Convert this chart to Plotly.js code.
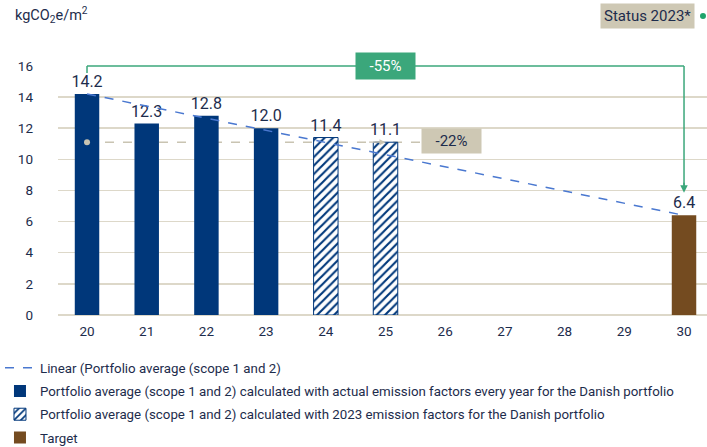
<!DOCTYPE html>
<html><head><meta charset="utf-8">
<script src="https://cdn.plot.ly/plotly-3.0.1.min.js"></script>
<style>body{margin:0;background:#fff}</style></head>
<body><div id="chart" style="width:707px;height:447px"></div>
<script>
const categories = ['20','21','22','23','24','25','26','27','28','29','30'];
const actualYears = ['20','21','22','23'];
const actualValues = [14.2, 12.3, 12.8, 12.0];
const factor2023Years = ['24','25'];
const factor2023Values = [11.4, 11.1];
const targetYears = ['30'];
const targetValues = [6.4];
const linearYears = ['20','30'];
const linearValues = [14.2, 6.4];
const yTicks = [0,2,4,6,8,10,12,14,16];
const totalReductionText = '-55%';
const statusReductionText = '-22%';
const statusLabel = 'Status 2023*';
const unitLabel = 'kgCO<sub>2</sub>e/m<sup>2</sup>';
const legendNames = [
  'Linear (Portfolio average (scope 1 and 2)',
  'Portfolio average (scope 1 and 2) calculated with actual emission factors every year for the Danish portfolio',
  'Portfolio average (scope 1 and 2) calculated with 2023 emission factors for the Danish portfolio',
  'Target'
];

const NAVY = '#00377a', TEXT = '#1d2c4c', BROWN = '#744b20', GREEN = '#3ba77b', BEIGE = '#cec8b4', GRID = '#ddd8c9';
const FONT = 'Roboto, sans-serif';
const BW = 0.41;

const labelFont = {color:TEXT, size:16, family:FONT};
const traces = [
  {type:'scatter', mode:'lines', x: linearYears, y: linearValues, name: legendNames[0],
   line:{color:'#4a78d0', width:1.5, dash:'dash'}, legendgroup:'a', hoverinfo:'skip'},
  {type:'bar', x: actualYears, y: actualValues, name: legendNames[1], width: BW,
   marker:{color: NAVY}, text: actualValues.map(v=>v.toFixed(1)), textposition:'outside', constraintext:'none',
   textfont:labelFont, cliponaxis:false, legendgroup:'b'},
  {type:'bar', x: factor2023Years, y: factor2023Values, name: legendNames[2], width: BW,
   marker:{color:'#fff', line:{color:NAVY, width:1}, pattern:{shape:'/', fgcolor:NAVY, bgcolor:'#fff', size:6, solidity:0.35}},
   text: factor2023Values.map(v=>v.toFixed(1)), textposition:'outside', constraintext:'none',
   textfont:labelFont, cliponaxis:false, legendgroup:'c'},
  {type:'bar', x: targetYears, y: targetValues, name: legendNames[3], width: BW,
   marker:{color: BROWN}, text: targetValues.map(v=>v.toFixed(1)), textposition:'outside', constraintext:'none',
   textfont:labelFont, cliponaxis:false, legendgroup:'d'},
  {type:'scatter', mode:'markers', x:[actualYears[0]], y:[factor2023Values[1]], showlegend:false,
   marker:{color:'#c9c4b2', size:6}, hoverinfo:'skip', cliponaxis:false}
];

const statusVal = factor2023Values[1];
const layout = {
  width:707, height:447,
  margin:{l:58, r:0, t:65, b:132, autoexpand:false},
  paper_bgcolor:'#fff', plot_bgcolor:'#fff',
  font:{family:FONT, color:TEXT, size:13},
  barmode:'overlay',
  showlegend:true,
  legend:{orientation:'v', x:-0.0894, xanchor:'left', y:-0.15, yanchor:'top',
    font:{size:13.3, color:TEXT, family:FONT}, traceorder:'grouped', tracegroupgap:3, itemwidth:30},
  xaxis:{type:'category', categoryorder:'array', categoryarray: categories,
    tickvals: categories, ticktext: categories,
    range:[-0.486, 10.385], showgrid:false, zeroline:false, showline:false, ticks:'',
    tickfont:{size:13.5, color:TEXT}, ticklabelstandoff:6, fixedrange:true},
  yaxis:{range:[0,16.06], tickvals:yTicks, ticktext: yTicks.map(String),
    showgrid:true, gridcolor:GRID, gridwidth:1.5, zeroline:true, zerolinecolor:GRID, zerolinewidth:2,
    showline:false, ticks:'', tickfont:{size:13.5, color:TEXT}, ticklabelstandoff:24, fixedrange:true},
  shapes:[
    {type:'line', xref:'x', yref:'y', x0:0, x1:0, y0:15.55, y1:16, line:{color:GREEN, width:1.5}},
    {type:'line', xref:'x', yref:'y', x0:0, x1:10, y0:16, y1:16, line:{color:GREEN, width:1.5}},
    {type:'line', xref:'x', yref:'y', x0:10, x1:10, y0:16, y1:8.3, line:{color:GREEN, width:1.5}},
    {type:'line', xref:'x', yref:'y', x0:0, x1:5.6, y0:statusVal, y1:statusVal, line:{color:'#c9c4b2', width:1.5, dash:'dash'}, layer:'below'},
    {type:'circle', xref:'paper', yref:'paper', xsizemode:'pixel', ysizemode:'pixel',
     xanchor:0.9938, yanchor:1.196, x0:-3, x1:3, y0:-3, y1:3, fillcolor:'#1fa36b', line:{width:0}}
  ],
  annotations:[
    {xref:'paper', yref:'paper', x:-0.0694, y:1.2, xanchor:'left', yanchor:'middle', text:unitLabel,
     showarrow:false, font:{size:14.5, color:TEXT}},
    {xref:'paper', yref:'paper', x:0.9817, y:1.196, xanchor:'right', yanchor:'middle', text:statusLabel,
     showarrow:false, font:{size:15, color:TEXT}, bgcolor:BEIGE, borderpad:3},
    {xref:'x', yref:'y', x:5, y:16, text:totalReductionText, showarrow:false,
     font:{size:15, color:'#fff'}, bgcolor:GREEN, borderpad:4, width:51},
    {xref:'x', yref:'y', x:6.1, y:statusVal+0.05, text:statusReductionText, showarrow:false,
     font:{size:15, color:TEXT}, bgcolor:BEIGE, borderpad:3, width:53},
    {xref:'x', yref:'y', axref:'x', ayref:'y', x:10, y:7.85, ax:10, ay:8.6, text:'', showarrow:true,
     arrowhead:2, arrowsize:1, arrowwidth:1.5, arrowcolor:GREEN},
    {xref:'x', yref:'y', axref:'x', ayref:'y', x:5, y:statusVal, ax:4.7, ay:statusVal, text:'', showarrow:true,
     arrowhead:2, arrowsize:1, arrowwidth:1.2, arrowcolor:'#c9c4b2'}
  ]
};

Plotly.newPlot('chart', traces, layout, {staticPlot:true, displayModeBar:false});
</script></body></html>
